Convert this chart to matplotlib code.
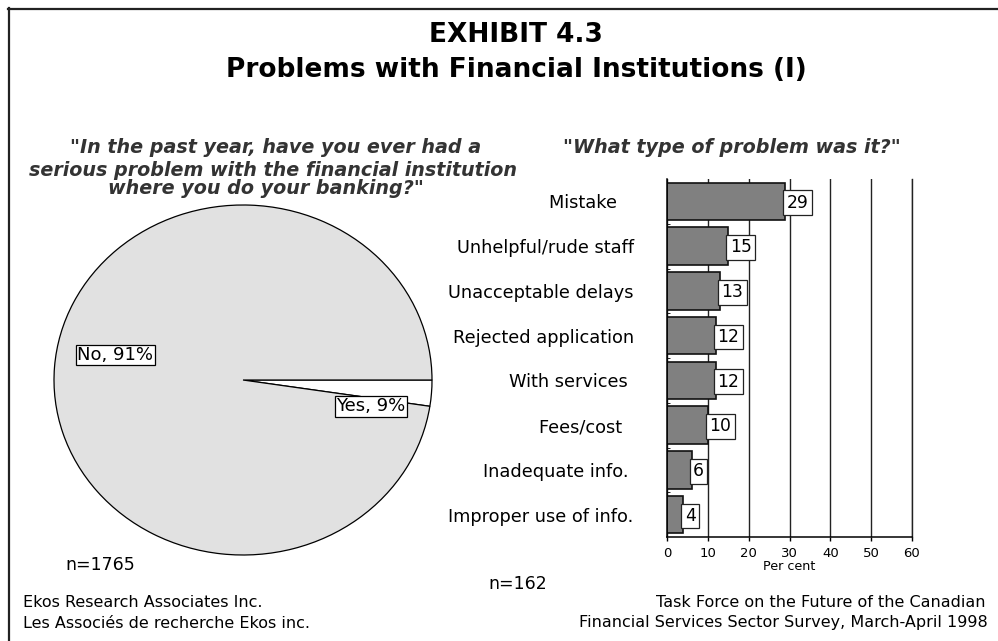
import matplotlib
matplotlib.use("Agg")
import matplotlib.pyplot as plt
from matplotlib.lines import Line2D

# Data
categories = ['Mistake', 'Unhelpful/rude staff', 'Unacceptable delays', 'Rejected application',
              'With services', 'Fees/cost', 'Inadequate info.', 'Improper use of info.']
cat_labels = ['Mistake   ', 'Unhelpful/rude staff', 'Unacceptable delays', 'Rejected application',
              'With services ', 'Fees/cost  ', 'Inadequate info. ', 'Improper use of info.']
percent = [29, 15, 13, 12, 12, 10, 6, 4]
x_ticks = [0, 10, 20, 30, 40, 50, 60]

pie_labels = ['Yes, 9%', 'No, 91%']
# wedge sizes as drawn in the original (the "Yes" wedge is drawn much thinner than 9%)
pie_sizes = [2.4, 97.6]
pie_colors = ['white', '#e1e1e1']

W, H = 998, 641
fig = plt.figure(figsize=(W / 100, H / 100), dpi=100)


def fx(x):
    return x / W


def fy(y):
    return 1 - y / H


# frame lines (top and left)
fig.add_artist(Line2D([fx(8), 1.0], [fy(9), fy(9)], color='#222222', lw=1.6))
fig.add_artist(Line2D([fx(9), fx(9)], [fy(8), 0.0], color='#222222', lw=1.6))

# titles
fig.text(fx(516), fy(42), 'EXHIBIT 4.3', ha='center', va='baseline',
         fontsize=19, fontweight='bold')
fig.text(fx(516), fy(77), 'Problems with Financial Institutions (I)', ha='center',
         va='baseline', fontsize=19, fontweight='bold')

sub_kw = dict(ha='center', va='baseline', fontsize=13.8, fontweight='bold',
              style='italic', color='#333333')
fig.text(fx(276), fy(153), '"In the past year, have you ever had a', **sub_kw)
fig.text(fx(273), fy(176), 'serious problem with the financial institution', **sub_kw)
fig.text(fx(266), fy(194), 'where you do your banking?"', **sub_kw)
fig.text(fx(732), fy(153), '"What type of problem was it?"', **sub_kw)

# pie
ax_pie = fig.add_axes([fx(54), fy(555), 378 / W, 350 / H])
wedges, _ = ax_pie.pie(pie_sizes, colors=pie_colors, startangle=0, counterclock=False,
                       wedgeprops=dict(edgecolor='black', linewidth=0.9))
for w in wedges:
    w.set_clip_on(False)
ax_pie.set_aspect('auto')
ax_pie.set_xlim(-1, 1)
ax_pie.set_ylim(-1, 1)
ax_pie.axis('off')

box = dict(boxstyle='square,pad=0.08', fc='white', ec='black', lw=0.9)
ax_pie.text(-0.675, 0.143, pie_labels[1], ha='center', va='center', fontsize=13, bbox=box)
ax_pie.text(0.675, -0.151, pie_labels[0], ha='center', va='center', fontsize=13, bbox=box)

fig.text(fx(65), fy(570), 'n=1765', ha='left', va='baseline', fontsize=12.5)

# bars
ax = fig.add_axes([fx(667), fy(537), 245 / W, 358 / H])
ypos = list(range(len(categories)))
ax.barh(ypos, percent, height=0.84, color='#808080', edgecolor='#111111', lw=1.2, zorder=2)
ax.set_ylim(len(categories) - 0.5, -0.5)
ax.set_xlim(0, 60)
ax.set_xticks(x_ticks)
ax.set_xticklabels([str(t) for t in x_ticks], fontsize=9.5)
ax.set_yticks(ypos)
ax.set_yticklabels(cat_labels, fontsize=12.8)
ax.set_yticks([y + 0.5 for y in ypos[:-1]], minor=True)
ax.tick_params(axis='y', which='major', length=0, pad=24)
ax.tick_params(axis='y', which='minor', length=2, direction='in')
ax.tick_params(axis='x', length=3, width=1, pad=4, direction='out')
ax.xaxis.grid(True, color='#222222', lw=1.0)
ax.set_axisbelow(True)
ax.spines['top'].set_visible(False)
ax.spines['right'].set_color('#222222')
ax.spines['right'].set_linewidth(1.0)
ax.spines['left'].set_linewidth(1.1)
ax.spines['bottom'].set_linewidth(1.1)
ax.set_xlabel('Per cent', fontsize=9.2, labelpad=0)

for y, v in zip(ypos, percent):
    ax.text(v + 0.35, y + 0.03, str(v), ha='left', va='center', fontsize=12.3, zorder=4,
            bbox=dict(boxstyle='square,pad=0.2', fc='white', ec='#222222', lw=0.9))

fig.text(fx(547), fy(589), 'n=162', ha='right', va='baseline', fontsize=12.5)

# sources
fig.text(fx(23), fy(607), 'Ekos Research Associates Inc.', ha='left', va='baseline', fontsize=11.5)
fig.text(fx(23), fy(628), 'Les Associés de recherche Ekos inc.', ha='left', va='baseline', fontsize=11.5)
fig.text(fx(986), fy(607), 'Task Force on the Future of the Canadian', ha='right',
         va='baseline', fontsize=11.5)
fig.text(fx(988), fy(627), 'Financial Services Sector Survey, March-April 1998', ha='right',
         va='baseline', fontsize=11.5)

fig.savefig('out.png', dpi=100, facecolor='white')
